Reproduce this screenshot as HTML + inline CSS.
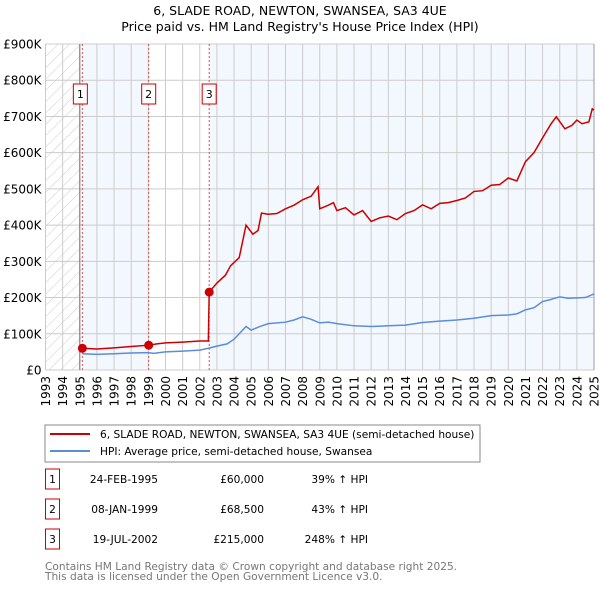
<!DOCTYPE html>
<html><head><meta charset="utf-8"><style>
body{margin:0;background:#fff;font-family:"DejaVu Sans","Liberation Sans",sans-serif;}
svg text{font-family:"DejaVu Sans","Liberation Sans",sans-serif;}
</style></head><body>
<svg id="chart" width="600" height="590">
<defs><pattern id="hatch" width="8" height="8" patternUnits="userSpaceOnUse" patternTransform="rotate(45)"><line x1="0" y1="0" x2="0" y2="8" stroke="#ccc" stroke-width="1"/></pattern></defs>
<text x="300" y="15" text-anchor="middle" font-size="12.5">6, SLADE ROAD, NEWTON, SWANSEA, SA3 4UE</text>
<text x="300" y="31" text-anchor="middle" font-size="12.5">Price paid vs. HM Land Registry's House Price Index (HPI)</text>
<g id="plot"></g>
<rect x="45" y="425" width="435" height="37" fill="#fff" stroke="#888"/>
<line x1="50" y1="434" x2="90" y2="434" stroke="#cc0000" stroke-width="2"/>
<text x="100" y="438" font-size="10.6">6, SLADE ROAD, NEWTON, SWANSEA, SA3 4UE (semi-detached house)</text>
<line x1="50" y1="451" x2="90" y2="451" stroke="#5b8ed6" stroke-width="2"/>
<text x="100" y="455" font-size="10.6">HPI: Average price, semi-detached house, Swansea</text>
<g id="table" font-size="10.6"></g>
<text x="45" y="570" font-size="10.6" fill="#777">Contains HM Land Registry data © Crown copyright and database right 2025.</text>
<text x="45" y="580" font-size="10.6" fill="#777">This data is licensed under the Open Government Licence v3.0.</text>
</svg>
<script>
const yTicks=[0,100,200,300,400,500,600,700,800,900];
const yTickLabels=["£0","£100K","£200K","£300K","£400K","£500K","£600K","£700K","£800K","£900K"];
const xYears=[1993,1994,1995,1996,1997,1998,1999,2000,2001,2002,2003,2004,2005,2006,2007,2008,2009,2010,2011,2012,2013,2014,2015,2016,2017,2018,2019,2020,2021,2022,2023,2024,2025];
const saleDates=[1995.15,1999.02,2002.55];
const salePrices=[60,68.5,215];
const saleLabels=["1","2","3"];
const saleDateText=["24-FEB-1995","08-JAN-1999","19-JUL-2002"];
const salePriceText=["£60,000","£68,500","£215,000"];
const saleHpiText=["39% ↑ HPI","43% ↑ HPI","248% ↑ HPI"];
const redT=[1995.15,1996,1997,1998,1999.02,1999.5,2000,2001,2002,2002.5,2002.55,2003,2003.5,2003.8,2004.3,2004.7,2005.1,2005.4,2005.6,2006,2006.5,2007,2007.5,2008,2008.5,2008.9,2009,2009.5,2009.8,2010,2010.5,2011,2011.5,2012,2012.5,2013,2013.5,2014,2014.5,2015,2015.5,2016,2016.5,2017,2017.5,2018,2018.5,2019,2019.5,2020,2020.5,2021,2021.5,2022,2022.5,2022.8,2023.3,2023.7,2024,2024.3,2024.7,2024.9,2025];
const redV=[60,58,61,65,68.5,72,75,77,80,80,215,240,262,288,310,400,375,385,433,430,432,445,455,470,480,506,445,455,462,440,448,428,440,410,420,425,415,432,440,456,445,460,462,468,475,493,495,510,512,530,522,575,600,641,680,699,666,675,690,680,685,721,718];
const blueT=[1995.15,1996,1997,1998,1999,1999.3,2000,2001,2002,2002.5,2003,2003.6,2004,2004.7,2005,2005.5,2006,2007,2007.5,2008,2008.5,2009,2009.5,2010,2011,2012,2013,2014,2015,2016,2017,2018,2019,2020,2020.5,2021,2021.5,2022,2022.5,2023,2023.5,2024,2024.5,2025];
const blueV=[45,43,45,47,48,46,50,52,55,60,66,72,85,120,110,120,128,132,138,147,140,130,132,128,122,120,122,124,131,135,138,143,150,152,155,166,172,189,195,202,198,199,200,210];
const NS='http://www.w3.org/2000/svg';
const L=45.5,R=594,T=44,B=370;
const xs=t=>L+(t-1993)*(R-L)/32;
const ys=v=>B-v*(B-T)/900;
function mk(tag,attrs,parent){const e=document.createElementNS(NS,tag);for(const k in attrs)e.setAttribute(k,attrs[k]);parent.appendChild(e);return e;}
const g=document.getElementById('plot');
let e;
e=mk('rect',{x:L,y:T,width:R-L,height:B-T,fill:'#f3f7fe'},g);


e=mk('rect',{x:L,y:T,width:xs(saleDates[0])-L,height:B-T,fill:'#fff'},g);


e=mk('rect',{x:L,y:T,width:xs(saleDates[0])-L,height:B-T,fill:'url(#hatch)'},g);


e=mk('rect',{x:xs(saleDates[1]),y:T,width:xs(saleDates[2])-xs(saleDates[1]),height:B-T,fill:'#fff'},g);


xYears.forEach((yr,i)=>{
 e=mk('line',{x1:xs(yr),x2:xs(yr),y1:T,y2:B,stroke:'#ccc','stroke-width':1},g);
 
 
 e=mk('text',{x:0,y:0,'font-size':12,'text-anchor':'end',transform:`translate(${xs(yr)+4.5},${B+6}) rotate(-90)`},g);
 e.textContent=yr;
 
 
});
yTicks.forEach((v,i)=>{
 e=mk('line',{x1:L,x2:R,y1:ys(v),y2:ys(v),stroke:'#ccc','stroke-width':1},g);
 
 
 e=mk('text',{x:L-4,y:ys(v)+4.5,'font-size':12,'text-anchor':'end'},g);
 e.textContent=yTickLabels[i];
 
 
});
e=mk('line',{x1:xs(1995),x2:xs(1995),y1:T,y2:B,stroke:'#777'},g);


e=mk('line',{x1:R,x2:R,y1:T,y2:B,stroke:'#99a'},g);


saleDates.forEach((d,i)=>{
 e=mk('line',{x1:xs(d),x2:xs(d),y1:T,y2:B,stroke:'#e05050','stroke-dasharray':'2,2'},g);
 
 
 const bx=xs(d)-(i==0?2:0);
 e=mk('rect',{x:bx-7,y:84,width:14,height:20,fill:'#fff',stroke:'#cc0000'},g);
 
 
 e=mk('text',{x:bx,y:98,'font-size':11,'text-anchor':'middle'},g);
 e.textContent=saleLabels[i];
 
 
});
e=mk('polyline',{points:blueT.map((t,i)=>xs(t)+','+ys(blueV[i])).join(' '),fill:'none',stroke:'#5b8ed6','stroke-width':1.5},g);


e=mk('polyline',{points:redT.map((t,i)=>xs(t)+','+ys(redV[i])).join(' '),fill:'none',stroke:'#cc0000','stroke-width':1.5},g);


saleDates.forEach((d,i)=>{
 e=mk('circle',{cx:xs(d),cy:ys(salePrices[i]),r:4.5,fill:'#cc0000'},g);
 
 
});
const tb=document.getElementById('table');
saleLabels.forEach((lab,i)=>{
 const y=483+i*30;
 e=mk('rect',{x:45.5,y:y-14,width:14,height:20,fill:'#fff',stroke:'#cc0000'},tb);
 
 
 e=mk('text',{x:52.5,y:y,'text-anchor':'middle'},tb);e.textContent=lab;
 
 
 e=mk('text',{x:158,y:y,'text-anchor':'end'},tb);e.textContent=saleDateText[i];
 
 
 e=mk('text',{x:264,y:y,'text-anchor':'end'},tb);e.textContent=salePriceText[i];
 
 
 e=mk('text',{x:368,y:y,'text-anchor':'end'},tb);e.textContent=saleHpiText[i];
 
 
});
</script>
</body></html>
